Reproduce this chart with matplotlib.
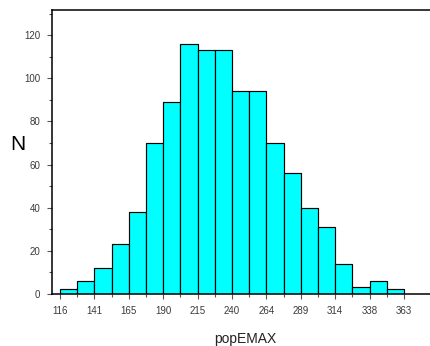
import numpy as np
import matplotlib
matplotlib.use("Agg")
from matplotlib import pyplot as plt
from matplotlib.ticker import MultipleLocator

# histogram of popEMAX: 20 bins from 116 to 363
bin_start = 116.0
bin_width = 12.35
counts = [2, 6, 12, 23, 38, 70, 89, 116, 113, 113, 94, 94, 70, 56, 40, 31, 14, 3, 6, 2]
tick_labels = ["116", "141", "165", "190", "215", "240", "264", "289", "314", "338", "363"]

plt.rcParams["font.family"] = ["Liberation Sans", "DejaVu Sans"]

edges = bin_start + bin_width * np.arange(len(counts) + 1)

fig = plt.figure(figsize=(4.31, 3.46), dpi=100)
ax = fig.add_axes([52 / 431, 52.3 / 346, 1 - 52 / 431, 283.7 / 346])

ax.bar(edges[:-1], counts, width=bin_width, align="edge",
       color="#00ffff", edgecolor="black", linewidth=0.85, zorder=2)

ax.set_xlim(bin_start - 0.465 * bin_width, edges[-1] + 1.57 * bin_width)
ax.set_ylim(0, 131.8)

ax.set_xticks(edges[::2])
ax.set_xticklabels(tick_labels)
ax.set_xticks(edges, minor=True)
ax.yaxis.set_major_locator(MultipleLocator(20))
ax.yaxis.set_minor_locator(MultipleLocator(10))

ax.spines["right"].set_visible(False)
for s in ["left", "top", "bottom"]:
    ax.spines[s].set_linewidth(1.1)

ax.tick_params(axis="both", which="major", length=3.5, width=0.8, color="#555555",
               labelsize=7, labelcolor="#3a3a3a")
ax.tick_params(axis="both", which="minor", length=2, width=0.8, color="#555555")
ax.tick_params(axis="x", which="major", pad=5)
ax.tick_params(axis="y", which="major", pad=5)

fig.text(18 / 431, 1 - 144 / 346, "N", fontsize=15, ha="center", va="center")
fig.text(245 / 431, 1 - 339 / 346, "popEMAX", fontsize=10, ha="center", va="center",
         color="#222222")

fig.savefig("out.png", dpi=100)
